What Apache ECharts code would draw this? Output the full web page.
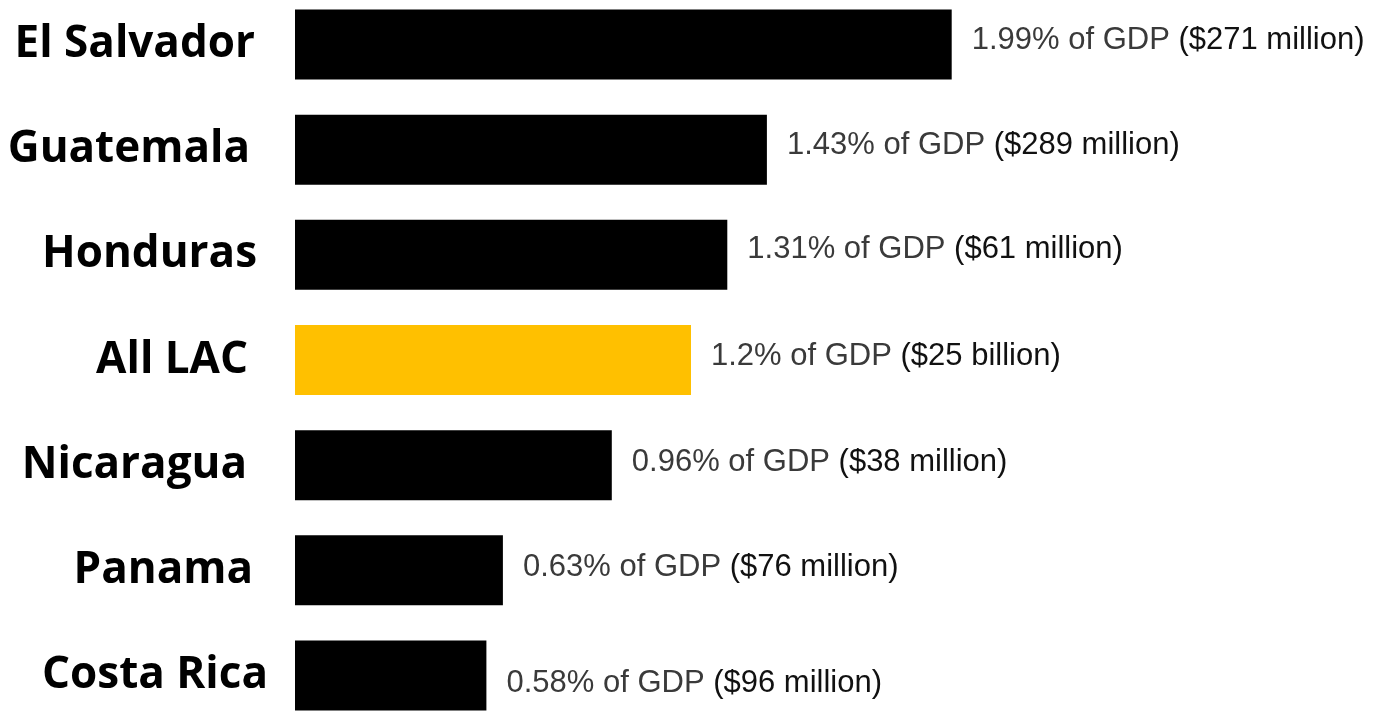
<!DOCTYPE html>
<html>
<head>
<meta charset="utf-8">
<script src="https://cdn.jsdelivr.net/npm/echarts@6/dist/echarts.min.js"></script>
<style>
  html, body { margin: 0; padding: 0; background: #fff; overflow: hidden; }
  #chart { position: absolute; left: 0; top: -8px; width: 1380px; height: 736px; }
</style>
</head>
<body>
<div id="chart"></div>
<script>
// Social spending share of GDP, by country (top to bottom)
const countries = ['El Salvador', 'Guatemala', 'Honduras', 'All LAC', 'Nicaragua', 'Panama', 'Costa Rica'];
const gdpShare = [1.99, 1.43, 1.31, 1.2, 0.96, 0.63, 0.58];
const amounts = ['$271 million', '$289 million', '$61 million', '$25 billion', '$38 million', '$76 million', '$96 million'];
const highlight = 'All LAC';

// Hand-placed text boxes: per-row nudges for the country names and value labels (px)
const nameShiftX = [13, 18, 11, 20, 21, 15, 0];
const nameShiftY = [-13, -11, -11, 4, -9, -9, -14];
const valueShiftY = [-4, -4, -5, -4, -3, -3, 8];

const chart = echarts.init(document.getElementById('chart'));

const categoryData = countries.map((name, i) => {
  const dy = nameShiftY[i];
  return {
    value: name,
    textStyle: {
      padding: [dy > 0 ? 2 * dy : 0, nameShiftX[i], dy < 0 ? -2 * dy : 0, 0]
    }
  };
});

const barData = gdpShare.map((v, i) => ({
  value: v,
  itemStyle: { color: countries[i] === highlight ? '#FFC000' : '#000000' },
  label: { offset: [0, valueShiftY[i]] }
}));

chart.setOption({
  animation: false,
  grid: { left: 295, right: 260, top: 0, bottom: 0, containLabel: false },
  xAxis: {
    type: 'value', min: 0, max: 2.5, show: false
  },
  yAxis: {
    type: 'category',
    inverse: true,
    data: categoryData,
    axisLine: { show: false },
    axisTick: { show: false },
    axisLabel: {
      margin: 27,
      fontFamily: 'Open Sans',
      fontWeight: 'bold',
      fontSize: 44,
      color: '#000',
      verticalAlign: 'middle'
    }
  },
  series: [{
    type: 'bar',
    data: barData,
    barWidth: 70,
    label: {
      show: true,
      position: 'right',
      distance: 20,
      formatter: p => '{a|' + gdpShare[p.dataIndex] + '% of GDP }{b|(' + amounts[p.dataIndex] + ')}',
      rich: {
        a: { fontFamily: 'Liberation Sans', fontSize: 31, color: '#3a3a3a' },
        b: { fontFamily: 'Liberation Sans', fontSize: 31, color: '#111111' }
      }
    }
  }]
});
</script>
</body>
</html>
